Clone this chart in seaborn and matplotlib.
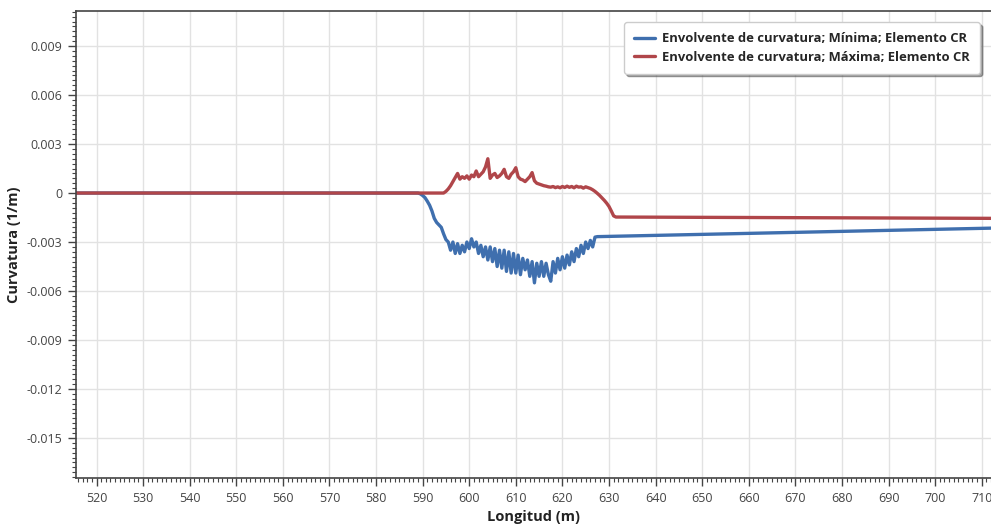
import numpy as np
import pandas as pd
import matplotlib
matplotlib.use("Agg")
import matplotlib.pyplot as plt
import matplotlib.ticker as mticker
import seaborn as sns

# --- data (curvature in 1e-3 1/m) ---
min_x = [515.0, 589.0, 589.5, 590.0, 590.5, 591.0, 591.5, 592.0, 592.5, 593.0, 593.5,
         594.0, 594.5, 595.0, 595.5, 596.0, 596.5, 597.0, 597.5, 598.0, 598.5,
         599.0, 599.5, 600.0, 600.5, 601.0, 601.5, 602.0, 602.5, 603.0, 603.5,
         604.0, 604.5, 605.0, 605.5, 606.0, 606.5, 607.0, 607.5, 608.0, 608.5,
         609.0, 609.5, 610.0, 610.5, 611.0, 611.5, 612.0, 612.5, 613.0, 613.5,
         614.0, 614.5, 615.0, 615.5, 616.0, 616.5, 617.0, 617.5, 618.0, 618.5,
         619.0, 619.5, 620.0, 620.5, 621.0, 621.5, 622.0, 622.5, 623.0, 623.5,
         624.0, 624.5, 625.0, 625.5, 626.0, 626.5, 627.0, 627.5, 712.0]
min_y = [0.0, 0.0, -0.05, -0.15, -0.28, -0.5, -0.75, -1.1, -1.55, -1.8, -1.95,
         -2.1, -2.5, -2.85, -3.0, -3.5, -3.0, -3.7, -3.1, -3.7, -3.2,
         -3.6, -3.0, -3.4, -2.8, -3.3, -3.0, -3.7, -3.2, -3.9, -3.3,
         -4.1, -3.3, -4.2, -3.4, -4.5, -3.5, -4.6, -3.5, -4.8, -3.6,
         -4.9, -3.7, -4.9, -3.8, -5.0, -4.0, -4.7, -4.1, -5.1, -4.2,
         -5.5, -4.3, -5.1, -4.2, -5.1, -4.3, -5.0, -5.4, -4.2, -4.9,
         -4.0, -4.7, -3.9, -4.6, -3.8, -4.4, -3.6, -4.2, -3.4, -3.9,
         -3.2, -3.7, -3.0, -3.4, -2.9, -3.3, -2.7, -2.67, -2.15]

max_x = [515.0, 594.5, 595.0, 595.5, 596.0, 596.5, 597.0, 597.5, 598.0, 598.5,
         599.0, 599.5, 600.0, 600.5, 601.0, 601.5, 602.0, 602.5, 603.0, 603.5,
         604.0, 604.5, 605.0, 605.5, 606.0, 606.5, 607.0, 607.5, 608.0, 608.5,
         609.0, 609.5, 610.0, 610.5, 611.0, 611.5, 612.0, 612.5, 613.0, 613.5,
         614.0, 614.5, 615.0, 615.5, 616.0, 616.5, 617.0, 617.5, 618.0, 618.5,
         619.0, 619.5, 620.0, 620.5, 621.0, 621.5, 622.0, 622.5, 623.0, 623.5,
         624.0, 624.5, 625.0, 625.5, 626.0, 626.5, 627.0, 627.5, 628.0, 628.5,
         629.0, 629.5, 630.0, 630.5, 631.0, 631.5, 712.0]
max_y = [0.0, 0.0, 0.1, 0.25, 0.45, 0.7, 0.95, 1.2, 0.85, 1.0,
         0.9, 1.05, 0.85, 1.1, 1.0, 1.35, 1.0, 1.15, 1.3, 1.6,
         2.1, 0.9, 1.1, 1.2, 0.95, 1.05, 1.2, 1.45, 1.0, 0.9,
         1.15, 1.3, 1.55, 1.0, 0.85, 0.8, 0.7, 0.85, 1.0, 1.25,
         0.75, 0.6, 0.55, 0.5, 0.45, 0.42, 0.38, 0.36, 0.4, 0.33,
         0.38, 0.32, 0.4, 0.34, 0.42, 0.35, 0.4, 0.32, 0.42, 0.36,
         0.38, 0.3, 0.38, 0.33, 0.28, 0.2, 0.1, -0.02, -0.15, -0.3,
         -0.45, -0.62, -0.82, -1.1, -1.4, -1.47, -1.55]

label_min = "Envolvente de curvatura; Mínima; Elemento CR"
label_max = "Envolvente de curvatura; Máxima; Elemento CR"

df_min = pd.DataFrame({"x": min_x, "y": np.array(min_y) * 1e-3})
df_max = pd.DataFrame({"x": max_x, "y": np.array(max_y) * 1e-3})

sns.set_theme(style="white")
plt.rcParams["font.family"] = ["Open Sans", "DejaVu Sans"]

fig = plt.figure(figsize=(9.91, 5.29), dpi=100)
ax = fig.add_axes([0.0767, 0.0964, 0.9233, 0.8826])

sns.lineplot(data=df_min, x="x", y="y", ax=ax, color="#3f6fae", linewidth=2.4,
             label=label_min, estimator=None, sort=False)
sns.lineplot(data=df_max, x="x", y="y", ax=ax, color="#b0464a", linewidth=2.4,
             label=label_max, estimator=None, sort=False)

ax.set_xlim(515.6, 712)
ax.set_ylim(-0.01745, 0.01114)

ax.xaxis.set_major_locator(mticker.MultipleLocator(10))
ax.xaxis.set_minor_locator(mticker.MultipleLocator(1))
ax.yaxis.set_major_locator(mticker.MultipleLocator(0.003))
ax.yaxis.set_minor_locator(mticker.MultipleLocator(0.0003))
ax.yaxis.set_major_formatter(mticker.FuncFormatter(
    lambda v, p: "0" if abs(v) < 1e-9 else f"{v:.3f}"))

ax.grid(True, which="major", color="#e2e2e2", linewidth=1.0)
ax.tick_params(which="major", direction="out", length=6, width=1,
               color="#444444", labelsize=9, labelcolor="#444444",
               left=True, bottom=True, pad=4)
ax.tick_params(which="minor", direction="out", length=3, width=0.8,
               color="#444444", left=True, bottom=True)

for side in ["left", "bottom", "top"]:
    ax.spines[side].set_color("#444444")
    ax.spines[side].set_linewidth(1.2)
ax.spines["right"].set_visible(False)

ax.set_xlabel("Longitud (m)", fontsize=10.5, fontweight="bold", color="#222222", labelpad=4)
ax.set_ylabel("Curvatura (1/m)", fontsize=10.5, fontweight="bold", color="#222222", labelpad=4)

leg = ax.legend(loc="upper right", bbox_to_anchor=(0.988, 0.976), borderaxespad=0,
                prop={"weight": "bold", "size": 9.4}, fancybox=True, shadow=True,
                framealpha=1, edgecolor="#cccccc", handlelength=1.6,
                handletextpad=0.6, labelspacing=0.45, borderpad=0.75)

fig.savefig("out.png", dpi=100)
